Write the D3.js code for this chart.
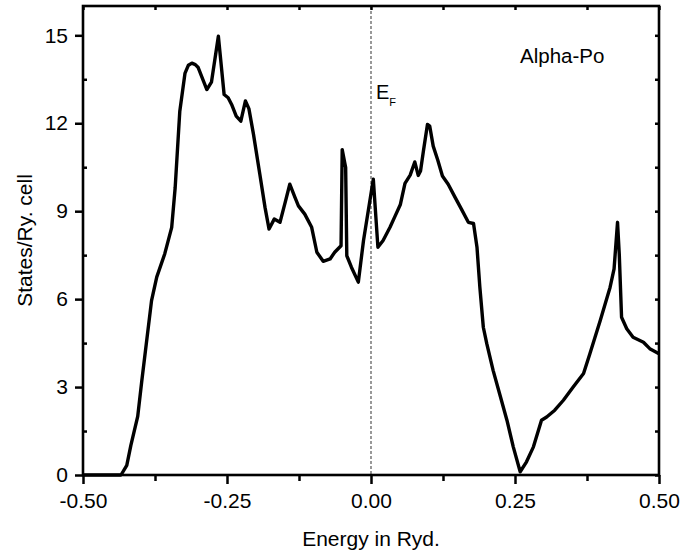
<!DOCTYPE html>
<html>
<head>
<meta charset="utf-8">
<script src="https://cdn.jsdelivr.net/npm/d3@7"></script>
<style>
  body { margin: 0; background: #fff; }
  text { font-family: "Liberation Sans", Arial, sans-serif; fill: #000; }
</style>
</head>
<body>
<div id="chart"></div>
<script>
// density of states
const energy = [
  -0.500, -0.434, -0.424, -0.417, -0.405, -0.398, -0.381, -0.372, -0.358, -0.346,
  -0.340, -0.332, -0.323, -0.317, -0.311, -0.305, -0.300, -0.292, -0.285, -0.277,
  -0.265, -0.255, -0.248, -0.242, -0.234, -0.226, -0.218, -0.212, -0.204, -0.193,
  -0.184, -0.177, -0.168, -0.158, -0.149, -0.141, -0.132, -0.126, -0.115, -0.103,
  -0.094, -0.083, -0.071, -0.063, -0.052, -0.050, -0.044, -0.042, -0.034, -0.022,
  -0.013, 0.004, 0.012, 0.021, 0.033, 0.042, 0.051, 0.059, 0.068, 0.076,
  0.082, 0.086, 0.091, 0.098, 0.102, 0.108, 0.116, 0.124, 0.134, 0.146,
  0.157, 0.169, 0.178, 0.184, 0.189, 0.195, 0.201, 0.212, 0.224, 0.236,
  0.247, 0.259, 0.270, 0.282, 0.296, 0.305, 0.319, 0.334, 0.351, 0.369,
  0.380, 0.398, 0.415, 0.422, 0.428, 0.431, 0.435, 0.444, 0.455, 0.473,
  0.484, 0.500
];
const dos = [
  0.00, 0.00, 0.33, 1.00, 2.00, 3.20, 5.95, 6.75, 7.55, 8.45,
  9.80, 12.40, 13.70, 13.98, 14.05, 14.00, 13.90, 13.50, 13.15, 13.40,
  14.97, 12.98, 12.87, 12.64, 12.24, 12.07, 12.76, 12.50, 11.62, 10.26,
  9.13, 8.39, 8.73, 8.62, 9.30, 9.92, 9.47, 9.18, 8.90, 8.45,
  7.60, 7.29, 7.37, 7.60, 7.82, 11.10, 10.49, 7.48, 7.09, 6.58,
  8.00, 10.09, 7.77, 8.00, 8.45, 8.84, 9.23, 9.95, 10.23, 10.68,
  10.22, 10.37, 11.05, 11.96, 11.90, 11.22, 10.74, 10.20, 9.92, 9.47,
  9.07, 8.62, 8.58, 7.77, 6.40, 5.04, 4.48, 3.57, 2.72, 1.87,
  0.96, 0.11, 0.45, 0.96, 1.87, 1.98, 2.21, 2.55, 3.00, 3.46,
  4.14, 5.27, 6.40, 7.03, 8.62, 7.54, 5.38, 4.99, 4.70, 4.53,
  4.31, 4.14
];
const xTicks = [-0.5, -0.25, 0, 0.25, 0.5];
const xMinor = [-0.375, -0.125, 0.125, 0.375];
const yTicks = [0, 3, 6, 9, 12, 15];
const yMinor = [1.5, 4.5, 7.5, 10.5, 13.5];
const fermi = 0;

const W = 684, H = 556;
const m = { left: 83, right: 25, top: 6, bottom: 81 };
const iw = W - m.left - m.right, ih = H - m.top - m.bottom;

const svg = d3.select("#chart").append("svg")
  .attr("width", W).attr("height", H);
svg.append("rect").attr("width", W).attr("height", H).attr("fill", "#fff");

const g = svg.append("g").attr("transform", `translate(${m.left},${m.top})`);

const x = d3.scaleLinear().domain([-0.5, 0.5]).range([0, iw]);
const y = d3.scaleLinear().domain([0, 16]).range([ih, 0]);

// Fermi level
g.append("line")
  .attr("x1", x(fermi)).attr("x2", x(fermi))
  .attr("y1", 0).attr("y2", ih)
  .attr("stroke", "#555").attr("stroke-width", 1.2)
  .attr("stroke-dasharray", "3,2");

// curve
const pts = energy.map((e, i) => [e, dos[i]]);
g.append("path")
  .datum(pts)
  .attr("fill", "none")
  .attr("stroke", "#000")
  .attr("stroke-width", 3.4)
  .attr("stroke-linejoin", "round")
  .attr("d", d3.line().x(d => x(d[0])).y(d => y(d[1])));

// axes
const axisStyle = sel => {
  sel.select(".domain").remove();
  sel.selectAll("line").attr("stroke", "#000").attr("stroke-width", 2.5);
  sel.selectAll("text").style("font-size", "21px");
};
const fmtX = d => d3.format(".2f")(d).replace("\u2212", "-");

g.append("g").attr("transform", `translate(0,${ih})`)
  .call(d3.axisBottom(x).tickValues(xMinor).tickSize(6).tickFormat(""))
  .call(axisStyle);
g.append("g").attr("transform", `translate(0,${ih})`)
  .call(d3.axisBottom(x).tickValues(xTicks).tickSize(9).tickFormat(fmtX))
  .call(axisStyle)
  .call(s => s.selectAll("text").attr("y", 33).attr("dy", null));

g.append("g")
  .call(d3.axisLeft(y).tickValues(yTicks).tickSize(8).tickPadding(7))
  .call(axisStyle);
g.append("g")
  .call(d3.axisRight(y).tickValues(yMinor).tickSize(4).tickFormat(""))
  .call(axisStyle);

// inner ticks on top and right
const allX = xTicks.concat(xMinor);
const allY = yTicks.concat(yMinor);
g.append("g")
  .call(d3.axisBottom(x).tickValues(allX).tickSize(4).tickFormat(""))
  .call(axisStyle);
g.append("g").attr("transform", `translate(${iw},0)`)
  .call(d3.axisLeft(y).tickValues(allY).tickSize(4).tickFormat(""))
  .call(axisStyle);

// frame
g.append("rect")
  .attr("width", iw).attr("height", ih)
  .attr("fill", "none").attr("stroke", "#000").attr("stroke-width", 2.6);

// titles
svg.append("text")
  .attr("x", m.left + iw / 2).attr("y", 546)
  .attr("text-anchor", "middle").style("font-size", "21px")
  .text("Energy in Ryd.");
svg.append("text")
  .attr("transform", `translate(32,${m.top + ih / 2}) rotate(-90)`)
  .attr("text-anchor", "middle").style("font-size", "21px")
  .text("States/Ry. cell");

g.append("text")
  .attr("x", 437).attr("y", 57)
  .style("font-size", "20.5px")
  .text("Alpha-Po");

const ef = g.append("text")
  .attr("x", x(fermi) + 5).attr("y", 93)
  .style("font-size", "20px");
ef.append("tspan").text("E");
ef.append("tspan").attr("dy", 7).style("font-size", "11px").text("F");
</script>
</body>
</html>
